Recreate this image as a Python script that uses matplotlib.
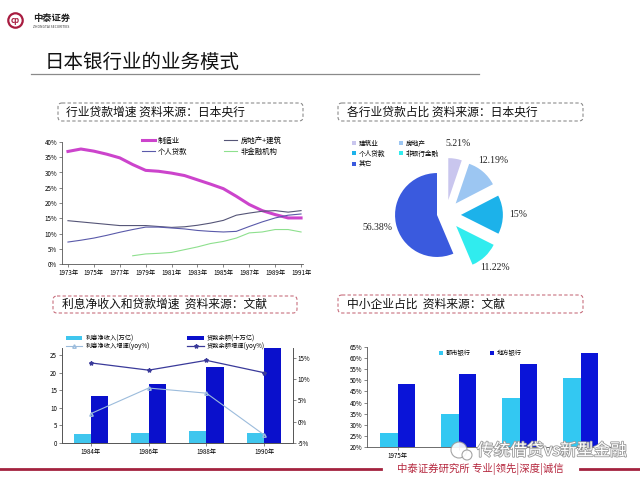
import numpy as np
import matplotlib.pyplot as plt
from matplotlib.patches import FancyBboxPatch, Circle
import matplotlib.patheffects as pe

plt.rcParams['font.family'] = ['Noto Sans CJK SC', 'DejaVu Sans']

# ---- data ----
years = list(range(1973, 1992))
mfg = [36.9, 37.7, 37.0, 36.0, 34.8, 32.6, 30.7, 30.4, 29.8, 29.0, 27.6, 26.2, 24.7, 22.2, 19.5, 17.5, 16.2, 15.1, 15.1]
realestate = [14.2, 13.8, 13.4, 13.0, 12.6, 12.6, 12.6, 12.3, 12.0, 12.2, 12.7, 13.4, 14.3, 16.0, 16.7, 17.3, 17.5, 17.0, 17.5]
personal = [7.2, 7.8, 8.5, 9.4, 10.4, 11.3, 12.1, 12.1, 11.8, 11.5, 11.0, 10.7, 10.5, 10.7, 12.3, 13.8, 15.1, 16.0, 16.4]
nonfin_years = list(range(1978, 1992))
nonfin = [2.7, 3.3, 3.5, 3.8, 4.7, 5.6, 6.7, 7.4, 8.5, 10.2, 10.5, 11.3, 11.3, 10.5]

pie_labels = ['建筑业', '房地产', '个人贷款', '非银行金融', '其它']
pie_vals = [5.21, 12.19, 15, 11.22, 56.38]
pie_colors = ['#c9c6ee', '#9cc6f2', '#1cb2ea', '#30ecee', '#3a5ade']

nii_years = ['1984年', '1986年', '1988年', '1990年']
nii = [2.6, 2.9, 3.3, 2.9]
loans = [13.4, 16.7, 21.6, 28.0]
nii_growth = [1.9, 7.9, 6.7, -3.1]
loan_growth = [13.8, 12.1, 14.4, 11.5]

sme_labels = ['1975年', '', '', '']
city_bank = [26.2, 34.9, 42.2, 50.9]
local_bank = [48.2, 52.7, 57.2, 62.4]

W, H = 640, 480
def box(x0, y0, x1, y1):
    return [x0 / W, 1 - y1 / H, (x1 - x0) / W, (y1 - y0) / H]
def fxy(x, y):
    return (x / W, 1 - y / H)

fig = plt.figure(figsize=(6.4, 4.8), dpi=100)
bg = fig.add_axes([0, 0, 1, 1], zorder=-1)
bg.set_xlim(0, W); bg.set_ylim(H, 0); bg.axis('off')

# header
bg.add_patch(Circle((15.5, 20.5), 7.2, fill=False, ec='#a81c40', lw=1.6))
bg.text(15.5, 20.8, 'cp', color='#a81c40', fontsize=5.5, ha='center', va='center', fontweight='bold')
bg.text(33, 18, '中泰证券', fontsize=6.7, fontweight='bold', va='center', color='#222222')
bg.text(33, 27, 'ZHONGTAI SECURITIES', fontsize=2.4, va='center', color='#333333')
bg.text(45, 62, '日本银行业的业务模式', fontsize=14, va='center', color='#111111')
bg.plot([31, 479], [74, 74], color='#8a8a8a', lw=0.9)

# title boxes
def title_box(x0, y0, x1, y1, text, ec, tx):
    bg.add_patch(FancyBboxPatch((x0, y0), x1 - x0, y1 - y0, boxstyle='round,pad=0,rounding_size=4',
                                fc='none', ec=ec, lw=0.8, ls=(0, (3, 2))))
    bg.text(tx, (y0 + y1) / 2, text, fontsize=8.5, va='center', color='#111111')

title_box(58, 103, 303, 121, '行业贷款增速 资料来源：日本央行', '#8c8c8c', 66)
title_box(338, 103, 583, 121, '各行业贷款占比 资料来源：日本央行', '#8c8c8c', 347)
title_box(53, 296, 297, 313, '利息净收入和贷款增速  资料来源：文献', '#c8707e', 62)
title_box(338, 295, 583, 313, '中小企业占比  资料来源：文献', '#c8707e', 347)

# footer
bg.plot([0, 381], [469, 469], color='#a3223f', lw=2)
bg.plot([580, 640], [469, 469], color='#a3223f', lw=2)
bg.text(480, 469, '中泰证券研究所 专业|领先|深度|诚信', color='#b5263d', fontsize=7.5, ha='center', va='center')

tick_fs = 4.5
def style(ax):
    for s in ax.spines.values():
        s.set_color('#555555'); s.set_linewidth(0.6)
    ax.tick_params(labelsize=tick_fs, length=2, width=0.5, color='#555555', pad=1.5)

# ---- panel 1: lines ----
ax1 = fig.add_axes(box(62, 142, 303, 264))
l1, = ax1.plot(years, mfg, color='#cc44cc', lw=2.2, label='制造业')
l2, = ax1.plot(years, realestate, color='#555577', lw=0.8, label='房地产+建筑')
l3, = ax1.plot(years, personal, color='#5a5aaa', lw=0.8, label='个人贷款')
l4, = ax1.plot(nonfin_years, nonfin, color='#8ee08e', lw=0.8, label='非金融机构')
ax1.set_xlim(1972.54, 1991.15); ax1.set_ylim(0, 40)
ax1.set_xticks(years[::2]); ax1.set_xticklabels([f'{y}年' for y in years[::2]])
ax1.set_yticks(range(0, 41, 5)); ax1.set_yticklabels([f'{v}%' for v in range(0, 41, 5)])
ax1.spines['top'].set_visible(False); ax1.spines['right'].set_visible(False)
style(ax1)
ax1.legend([l1, l3, l2, l4], ['制造业', '个人贷款', '房地产+建筑', '非金融机构'], ncol=2, loc='upper left',
           bbox_to_anchor=fxy(138, 133), bbox_transform=fig.transFigure, frameon=False, fontsize=5.3,
           handlelength=1.8, handletextpad=0.4, columnspacing=5.0, labelspacing=0.4, borderpad=0)

# ---- panel 2: pie (big slice in place, small slices pulled out to the right) ----
ax2 = fig.add_axes(box(377, 155, 497, 275))
pct = lambda p: f'{p:.2f}'.rstrip('0').rstrip('.') + '%'
tp = dict(fontsize=7, family='Liberation Serif', color='#222222')
wb, _, tb = ax2.pie(pie_vals, colors=pie_colors, startangle=90, counterclock=False,
                    autopct=pct, pctdistance=1.45, textprops=tp)
ws, _, ts = ax2.pie(pie_vals, colors=pie_colors, startangle=90, counterclock=False, center=(0.21, 0),
                    explode=[0.36, 0.36, 0.36, 0.36, 0], autopct=pct, pctdistance=1.36, textprops=tp)
for i in range(4):
    wb[i].set_visible(False); tb[i].set_visible(False)
ws[4].set_visible(False); ts[4].set_visible(False)
ax2.set_xlim(-1.43, 1.43); ax2.set_ylim(-1.43, 1.43)
handles = list(ws[:4]) + [wb[4]]
order = [0, 2, 4, 1, 3]
ax2.legend([handles[i] for i in order], [pie_labels[i] for i in order], ncol=2, loc='upper left',
           bbox_to_anchor=fxy(349, 136), bbox_transform=fig.transFigure, frameon=False, fontsize=4.8,
           handlelength=0.6, handleheight=0.6, handletextpad=0.4, columnspacing=2.0, labelspacing=0.35, borderpad=0)

# ---- panel 3: bars + lines ----
x = np.arange(4)
ax3 = fig.add_axes(box(62, 348, 293, 443))
b1 = ax3.bar(x - 0.15, nii, 0.3, color='#3fc6ee', label='利息净收入(万亿)')
b2 = ax3.bar(x + 0.15, loans, 0.3, color='#0a10cc', label='贷款余额(十万亿)')
ax3.set_xlim(-0.5, 3.5); ax3.set_ylim(0, 27)
ax3.set_yticks(range(0, 26, 5))
ax3.set_xticks(x); ax3.set_xticklabels(nii_years)
ax3.tick_params(axis='x', length=0)
style(ax3)
ax3r = ax3.twinx()
g1, = ax3r.plot(x, nii_growth, color='#9cbcdc', lw=0.8, marker='^', ms=2.5, mfc='none', label='利息净收入增速(yoy%)')
g2, = ax3r.plot(x, loan_growth, color='#3a3a9a', lw=0.9, marker='*', ms=3, label='贷款余额增速(yoy%)')
ax3r.set_ylim(-5, 17.3)
ax3r.set_yticks(range(-5, 16, 5)); ax3r.set_yticklabels([f'{v}%' for v in range(-5, 16, 5)])
style(ax3r)
ax3.spines['top'].set_visible(False); ax3r.spines['top'].set_visible(False)
ax3.legend([b1, g1, b2, g2], ['利息净收入(万亿)', '利息净收入增速(yoy%)', '贷款余额(十万亿)', '贷款余额增速(yoy%)'],
           ncol=2, loc='upper left', bbox_to_anchor=fxy(63, 331), bbox_transform=fig.transFigure,
           frameon=False, fontsize=4.5, handlelength=2.6, handleheight=0.65, handletextpad=0.5,
           columnspacing=6.0, labelspacing=0.05, borderpad=0)

# ---- panel 4: bars ----
ax4 = fig.add_axes(box(367, 347, 611, 447))
c1 = ax4.bar(x - 0.145, city_bank, 0.29, color='#33c8f2', label='都市银行')
c2 = ax4.bar(x + 0.145, local_bank, 0.29, color='#0a14d8', label='地方银行')
ax4.set_xlim(-0.5, 3.5); ax4.set_ylim(20, 65)
ax4.set_yticks(range(20, 66, 5)); ax4.set_yticklabels([f'{v}%' for v in range(20, 66, 5)])
ax4.set_xticks(x); ax4.set_xticklabels(sme_labels)
ax4.tick_params(axis='x', length=0)
ax4.spines['top'].set_visible(False); ax4.spines['right'].set_visible(False)
style(ax4)
ax4.legend(ncol=2, loc='upper left', bbox_to_anchor=fxy(436, 346), bbox_transform=fig.transFigure,
           frameon=False, fontsize=4.5, handlelength=0.6, handleheight=0.6, handletextpad=0.5,
           columnspacing=3.0, borderpad=0)

# watermark overlay
top = fig.add_axes([0, 0, 1, 1], zorder=10)
top.set_xlim(0, W); top.set_ylim(H, 0); top.axis('off'); top.patch.set_alpha(0)
top.add_patch(Circle((459, 450), 8, fc='white', ec='#9a9a9a', lw=0.8, alpha=0.9))
top.add_patch(Circle((467, 455), 5, fc='white', ec='#9a9a9a', lw=0.8, alpha=0.9))
top.text(477, 451, '传统借贷vs新型金融', fontsize=12, color='white', va='center',
         path_effects=[pe.withStroke(linewidth=1.2, foreground='#9a9a9a')])

fig.savefig('out.png', dpi=100)
